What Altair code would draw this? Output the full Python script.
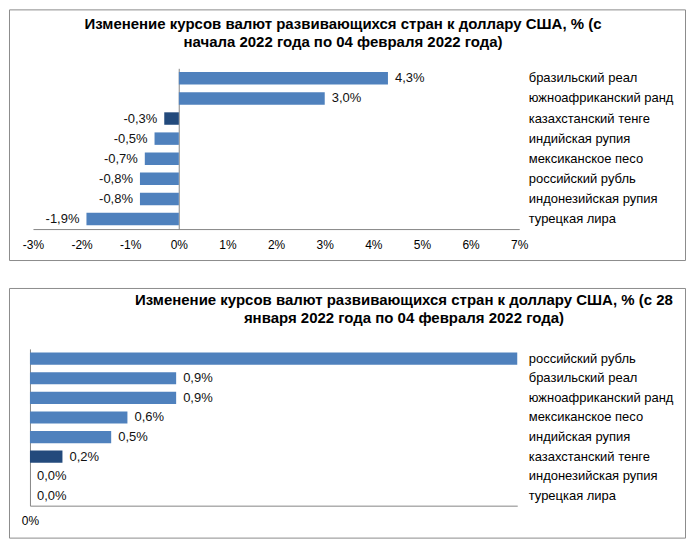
import altair as alt
import pandas as pd

# ---- data ----
cats_ytd = ["бразильский реал", "южноафриканский ранд", "казахстанский тенге",
            "индийская рупия", "мексиканское песо", "российский рубль",
            "индонезийская рупия", "турецкая лира"]
vals_ytd = [4.3, 3.0, -0.3, -0.5, -0.7, -0.8, -0.8, -1.9]
ticks_ytd = [-3, -2, -1, 0, 1, 2, 3, 4, 5, 6, 7]

cats_week = ["российский рубль", "бразильский реал", "южноафриканский ранд",
             "мексиканское песо", "индийская рупия", "казахстанский тенге",
             "индонезийская рупия", "турецкая лира"]
vals_week = [3.0, 0.9, 0.9, 0.6, 0.5, 0.2, 0.0, 0.0]
ticks_week = [0]

title_ytd = ["Изменение курсов валют развивающихся стран к доллару США, % (с",
             "начала 2022 года по 04 февраля 2022 года)"]
title_week = ["Изменение курсов валют развивающихся стран к доллару США, % (с 28",
              "января 2022 года по 04 февраля 2022 года)"]

highlight = "казахстанский тенге"

BLUE = "#4F81BD"
DARK = "#234A7C"
GRAY = "#868686"
FONT = "Liberation Sans"


def panel(cats, vals, title, ticks, x_domain, x_range, y_range, w, h,
          x_off, zero_off, title_dx, title_off):
    df = pd.DataFrame({"cat": cats, "val": vals})
    df["label"] = [f"{v:.1f}".replace(".", ",") + "%" for v in vals]

    xs = alt.Scale(domain=x_domain, range=x_range, nice=False, zero=False)
    ys = alt.Scale(domain=cats, range=y_range, paddingInner=0.38, paddingOuter=0.19)

    base = alt.Chart(df)
    bars = base.mark_bar().encode(
        x=alt.X("val:Q", scale=xs,
                axis=alt.Axis(orient="bottom", offset=x_off, values=ticks,
                              labelExpr="datum.value + '%'", grid=False,
                              ticks=False, tickSize=0, domainColor=GRAY,
                              labelFontSize=12, labelColor="#000",
                              labelPadding=10, labelFlush=False, title=None)),
        y=alt.Y("cat:N", sort=cats, scale=ys,
                axis=alt.Axis(orient="left", offset=zero_off, labels=False,
                              ticks=False, tickSize=0, domainColor=GRAY,
                              grid=False, title=None)),
        color=alt.condition(alt.datum.cat == highlight, alt.value(DARK), alt.value(BLUE)),
    )
    pos = base.transform_filter(
        (alt.datum.val >= 0) & (alt.datum.val < x_domain[1])
    ).mark_text(align="left", dx=7, fontSize=13, color="#111").encode(
        x=alt.X("val:Q", scale=xs, axis=None),
        y=alt.Y("cat:N", sort=cats, scale=ys,
                axis=alt.Axis(orient="right", offset=-(w - 520), labelAlign="left",
                              labelPadding=0, ticks=False, tickSize=0, domain=False,
                              grid=False, labelFontSize=13, labelColor="#000",
                              title=None)),
        text="label:N",
    )
    neg = base.transform_filter(alt.datum.val < 0).mark_text(
        align="right", dx=-7, fontSize=13, color="#111").encode(
        x=alt.X("val:Q", scale=xs, axis=None),
        y=alt.Y("cat:N", sort=cats, scale=ys, axis=None),
        text="label:N",
    )
    return alt.layer(bars, pos, neg).resolve_axis(
        x="independent", y="independent"
    ).properties(
        width=w, height=h,
        title=alt.Title(title, fontSize=15, fontWeight="bold", font=FONT,
                        anchor="middle", offset=title_off, dx=title_dx,
                        lineHeight=18, color="#000"),
    )


p1 = panel(cats_ytd, vals_ytd, title_ytd, ticks_ytd, [-3, 7], [24, 511], [59, 220],
           677, 251, -31, -170, -4, -41)
p2 = panel(cats_week, vals_week, title_week, ticks_week, [0, 3.0], [21, 509], [61, 218],
           677, 250, -32, -21, 57, -38)

chart = alt.vconcat(p1, p2, spacing=26).properties(padding=0).configure(
    font=FONT
).configure_view(stroke="#8c8c8c", strokeWidth=1)

chart.save("out.html", embed_options={"renderer": "svg", "actions": False})
